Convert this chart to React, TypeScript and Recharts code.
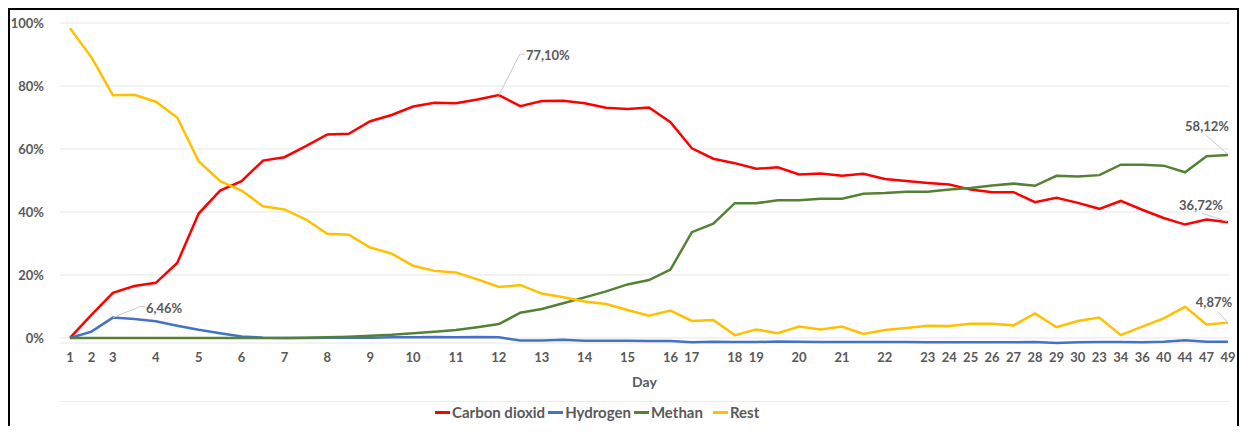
import { LineChart, Line, XAxis, YAxis, CartesianGrid, Legend } from "recharts";

const dayLabels = [
  "1", "2", "3", "", "4", "", "5", "", "6", "", "7", "", "8", "", "9", "",
  "10", "", "11", "", "12", "", "13", "", "14", "", "15", "", "16", "17", "",
  "18", "19", "", "20", "", "21", "", "22", "", "23", "24", "25", "26", "27",
  "28", "29", "30", "23", "34", "36", "40", "44", "47", "49",
];

const carbonDioxid = [
  0, 7.3, 14.3, 16.5, 17.5, 23.8, 39.5, 46.8, 49.8, 56.3, 57.4, 60.9, 64.6,
  64.8, 68.8, 70.8, 73.5, 74.7, 74.5, 75.7, 77.1, 73.6, 75.2, 75.3, 74.5, 73.1,
  72.7, 73.2, 68.5, 60.2, 56.9, 55.5, 53.7, 54.2, 51.9, 52.2, 51.5, 52.1, 50.5,
  49.8, 49.2, 48.7, 47.1, 46.3, 46.3, 43.1, 44.5, 42.9, 41.0, 43.5, 40.7, 38.1,
  36.0, 37.6, 36.72,
];

const hydrogen = [
  0, 2.0, 6.46, 6.0, 5.3, 3.9, 2.6, 1.5, 0.5, 0.1, 0, 0, 0.1, 0.1, 0.1, 0.2,
  0.2, 0.3, 0.2, 0.3, 0.2, -0.8, -0.8, -0.6, -0.9, -0.9, -0.9, -1.0, -1.0,
  -1.4, -1.2, -1.3, -1.3, -1.1, -1.2, -1.3, -1.3, -1.3, -1.3, -1.3, -1.4, -1.4,
  -1.4, -1.4, -1.4, -1.3, -1.6, -1.4, -1.3, -1.3, -1.4, -1.2, -0.7, -1.2, -1.2,
];

const methan = [
  0, 0, 0, 0, 0, 0, 0, 0, 0, 0, 0, 0.1, 0.2, 0.4, 0.7, 1.0, 1.5, 2.0, 2.5, 3.4,
  4.4, 8.0, 9.2, 11.0, 12.9, 14.8, 17.0, 18.4, 21.7, 33.6, 36.3, 42.8, 42.8,
  43.7, 43.7, 44.2, 44.2, 45.8, 46.0, 46.4, 46.4, 47.1, 47.6, 48.4, 49.0, 48.3,
  51.5, 51.3, 51.7, 55.0, 55.0, 54.7, 52.6, 57.7, 58.12,
];

const rest = [
  98.3, 89.1, 77.1, 77.2, 75.0, 70.0, 56.1, 49.8, 46.8, 41.8, 40.8, 37.6, 33.1,
  32.8, 28.7, 26.8, 22.9, 21.3, 20.8, 18.6, 16.2, 16.8, 14.1, 12.9, 11.6, 10.8,
  8.9, 7.1, 8.7, 5.4, 5.7, 0.9, 2.7, 1.5, 3.6, 2.7, 3.6, 1.3, 2.5, 3.2, 3.9,
  3.8, 4.5, 4.5, 4.0, 7.8, 3.4, 5.4, 6.5, 0.9, 3.6, 6.2, 9.9, 4.3, 4.87,
];

const yTicks = [0, 20, 40, 60, 80, 100];

const data = dayLabels.map((day, i) => ({
  i,
  day,
  co2: carbonDioxid[i],
  h2: hydrogen[i],
  ch4: methan[i],
  rest: rest[i],
}));

const xTicks = dayLabels.map((d, i) => (d ? i : -1)).filter((i) => i >= 0);

const last = dayLabels.length - 1;

const W = 1227; // chart width inside the frame

// callouts: which point gets a value label, and where the label sits
const callouts: Record<string, { index: number; lx: number; ly: number; tx: number; ty: number; anchor: string; fromPoint: boolean }[]> = {
  co2: [
    { index: 20, lx: 21, ly: -41, tx: 27, ty: -40, anchor: "start", fromPoint: true },
    { index: last, lx: -26, ly: -9, tx: -27, ty: -17, anchor: "middle", fromPoint: false },
  ],
  h2: [{ index: 2, lx: 27, ly: -11, tx: 33, ty: -10, anchor: "start", fromPoint: true }],
  ch4: [{ index: last, lx: -22, ly: -20, tx: -21, ty: -29, anchor: "middle", fromPoint: false }],
  rest: [{ index: last, lx: -10, ly: -11, tx: -14, ty: -21, anchor: "middle", fromPoint: false }],
};

const fmt = (v: number) => v.toFixed(2).replace(".", ",") + "%";

const makeLabel = (key: string) => (props: any) => {
  const { x, y, index, value } = props;
  const c = callouts[key].find((k) => k.index === index);
  if (!c) return null;
  return (
    <g key={`${key}-${index}`}>
      <polyline
        points={
          c.fromPoint
            ? `${x},${y} ${x + c.lx},${y + c.ly} ${x + c.tx - 1},${y + c.ly}`
            : `${x + c.lx},${y + c.ly} ${x - 1},${y - 1}`
        }
        fill="none"
        stroke="#c9c9c9"
        strokeWidth={1}
      />
      <text
        x={x + c.tx}
        y={y + c.ty}
        textAnchor={c.anchor as any}
        dominantBaseline="central"
        fill="#595959"
        fontSize={13}
        fontWeight={700}
      >
        {fmt(value)}
      </text>
    </g>
  );
};

const series = [
  { key: "co2", name: "Carbon dioxid", color: "#ff0000" },
  { key: "h2", name: "Hydrogen", color: "#4472c4" },
  { key: "ch4", name: "Methan", color: "#548235" },
  { key: "rest", name: "Rest", color: "#ffc000" },
];

const LegendBox = () => (
  <div style={{ position: "relative", height: 40, width: W }}>
    <div
      style={{
        position: "absolute",
        left: 50,
        top: 15,
        width: W - 58,
        borderTop: "1px solid #ececec",
      }}
    />
    <div
      style={{
        position: "absolute",
        left: 425,
        top: 16,
        height: 20,
        display: "flex",
        alignItems: "center",
        fontSize: 15,
        fontWeight: 700,
        color: "#595959",
        whiteSpace: "nowrap",
      }}
    >
      {series.map((s) => (
        <span key={s.key} style={{ display: "flex", alignItems: "center", marginRight: s.key === "ch4" ? 10 : 3 }}>
          <span style={{ display: "inline-block", width: 15, height: 3, background: s.color, marginRight: 2 }} />
          {s.name}
        </span>
      ))}
    </div>
  </div>
);

export default function App() {
  return (
    <>
      <style>{"html,body{overflow:hidden}"}</style>
      <div
        style={{
          boxSizing: "border-box",
          width: W + 4,
          height: 418,
          overflow: "hidden",
          borderTop: "2px solid #000",
          borderLeft: "2px solid #000",
          borderRight: "2px solid #000",
          fontFamily: "Lato, 'Open Sans', sans-serif",
          background: "#fff",
        }}
      >
        <LineChart
          width={W}
          height={416}
          data={data}
          margin={{ top: 13, right: 8, bottom: 0, left: 0 }}
        >
          <CartesianGrid vertical={false} stroke="#e6e6e6" />
          <XAxis
            dataKey="i"
            type="number"
            domain={[0, last]}
            ticks={xTicks}
            interval={0}
            tickFormatter={(v: number) => dayLabels[v]}
            padding={{ left: 10, right: 1 }}
            axisLine={false}
            tickLine={false}
            tickSize={0}
            tickMargin={10}
            height={43}
            tick={{ fill: "#595959", fontSize: 13, fontWeight: 700 }}
            label={{
              value: "Day",
              position: "insideBottom",
              offset: -1,
              fill: "#595959",
              fontSize: 14,
              fontWeight: 700,
            }}
          />
          <YAxis
            type="number"
            domain={[-1.5, 100]}
            ticks={yTicks}
            width={50}
            axisLine={false}
            tickLine={false}
            tickSize={0}
            tickMargin={16}
            tickFormatter={(v: number) => `${v}%`}
            tick={{ fill: "#595959", fontSize: 13, fontWeight: 700 }}
          />
          <Legend
            verticalAlign="bottom"
            content={() => <LegendBox />}
            wrapperStyle={{ left: 0, width: W, height: 40 }}
          />
          {series.map((s) => (
            <Line
              key={s.key}
              type="linear"
              dataKey={s.key}
              name={s.name}
              stroke={s.color}
              strokeWidth={2.5}
              dot={false}
              isAnimationActive={false}
              label={makeLabel(s.key)}
            />
          ))}
        </LineChart>
      </div>
    </>
  );
}
